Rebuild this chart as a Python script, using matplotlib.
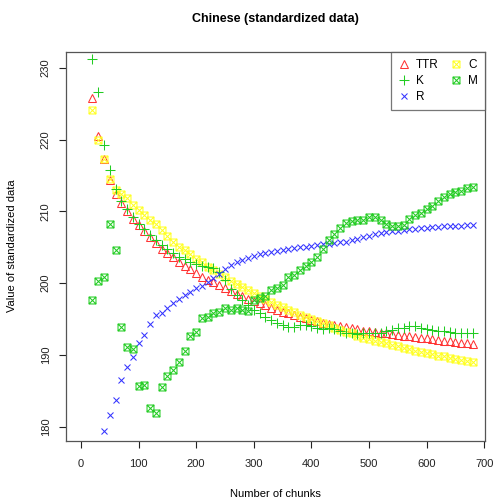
import numpy as np
import matplotlib.pyplot as plt
from matplotlib.path import Path

plt.rcParams['font.family'] = ['Liberation Sans', 'DejaVu Sans']

# chunk counts (every 10 chunks)
chunks = np.arange(20, 690, 10)

ttr = [225.8, 220.5, 217.3, 214.4, 212.4, 211.2, 210.1, 209.0, 208.1, 207.2,
       206.4, 205.6, 204.8, 204.2, 203.6, 203.0, 202.4, 201.9, 201.4, 200.9,
       200.5, 200.1, 199.7, 199.3, 198.9, 198.5, 198.2, 197.8, 197.5, 197.2,
       196.9, 196.6, 196.3, 196.0, 195.8, 195.5, 195.3, 195.1, 194.9, 194.7,
       194.5, 194.3, 194.2, 194.0, 193.9, 193.7, 193.6, 193.4, 193.3, 193.2,
       193.1, 193.0, 192.9, 192.8, 192.7, 192.6, 192.5, 192.4, 192.3, 192.2,
       192.1, 192.0, 191.9, 191.8, 191.7, 191.6, 191.5]

c_vals = [224.1, 220.0, 217.3, 214.5, 213.0, 212.4, 211.8, 210.9, 210.2, 209.5,
          208.8, 208.2, 207.4, 206.6, 205.8, 205.1, 204.6, 204.0, 203.4, 202.9,
          202.3, 201.8, 201.3, 200.8, 200.3, 199.9, 199.4, 199.0, 198.6, 198.2,
          197.8, 197.4, 197.0, 196.7, 196.3, 196.0, 195.6, 195.3, 195.0, 194.7,
          194.4, 194.1, 193.8, 193.5, 193.2, 193.0, 192.7, 192.4, 192.2, 192.0,
          191.8, 191.6, 191.4, 191.2, 191.0, 190.8, 190.6, 190.4, 190.3, 190.1,
          189.9, 189.8, 189.6, 189.5, 189.3, 189.2, 189.0]

k_vals = [231.2, 226.6, 219.2, 215.7, 213.1, 211.5, 210.3, 209.2, 208.3, 207.5,
          206.7, 206.0, 205.3, 204.7, 204.2, 203.7, 203.3, 202.9, 202.6, 202.4,
          202.3, 202.1, 201.5, 200.5, 199.2, 198.3, 197.6, 197.0, 196.3, 195.8,
          195.3, 194.9, 194.5, 194.1, 193.9, 193.9, 194.1, 194.2, 194.0, 193.7,
          193.6, 193.7, 193.6, 193.3, 193.0, 193.0, 192.9, 193.0, 193.0, 193.0,
          193.1, 193.3, 193.5, 193.7, 193.8, 194.0, 194.0, 193.8, 193.6, 193.5,
          193.4, 193.3, 193.2, 193.1, 193.1, 193.0, 193.0]

# R only shows from 40 chunks on
r_chunks = chunks[2:]
r_vals = [179.4, 181.6, 183.7, 186.5, 188.3, 189.7, 191.6, 192.8, 194.3, 195.5,
          195.9, 196.6, 197.2, 197.8, 198.3, 198.8, 199.3, 199.6, 200.1, 200.7,
          201.3, 201.9, 202.5, 202.9, 203.2, 203.5, 203.8, 204.0, 204.2, 204.4,
          204.5, 204.6, 204.8, 204.9, 205.0, 205.1, 205.2, 205.3, 205.4, 205.5,
          205.6, 205.7, 205.8, 206.0, 206.2, 206.4, 206.6, 206.8, 207.0, 207.1,
          207.2, 207.3, 207.4, 207.5, 207.6, 207.7, 207.7, 207.8, 207.8, 207.9,
          207.9, 208.0, 208.0, 208.1, 208.1]

m_vals = [197.6, 200.3, 200.8, 208.2, 204.6, 193.9, 191.1, 190.8, 185.7, 185.8,
          182.6, 181.9, 185.6, 187.0, 187.9, 189.0, 190.6, 192.6, 193.2, 195.1,
          195.3, 195.8, 196.0, 196.6, 196.2, 196.6, 196.3, 196.1, 197.6, 197.9,
          198.2, 199.0, 199.3, 199.8, 200.9, 201.2, 201.8, 202.4, 203.0, 203.6,
          204.8, 206.0, 206.9, 207.7, 208.4, 208.6, 208.8, 208.8, 209.2, 209.2,
          208.8, 208.2, 208.0, 208.0, 208.1, 209.0, 209.5, 209.8, 210.3, 210.8,
          211.4, 212.0, 212.4, 212.7, 212.9, 213.2, 213.4]

# square with a cross inside (R pch 7)
sq_x = Path([(-1, -1), (1, -1), (1, 1), (-1, 1), (-1, -1),
             (-1, -1), (1, 1), (-1, 1), (1, -1)],
            [Path.MOVETO, Path.LINETO, Path.LINETO, Path.LINETO, Path.CLOSEPOLY,
             Path.MOVETO, Path.LINETO, Path.MOVETO, Path.LINETO])

fig = plt.figure(figsize=(4.96, 5.01), dpi=100)
ax = fig.add_axes([66 / 496, 1 - 440.7 / 501, (485 - 66) / 496, (440.7 - 52) / 501])

kw = dict(linestyle='none', markerfacecolor='none', markeredgewidth=0.75)
h_ttr, = ax.plot(chunks, ttr, marker='^', color='#ff3333', markersize=6, **kw)
h_c, = ax.plot(chunks, c_vals, marker=sq_x, color='#ffff22', markersize=5, **kw)
h_k, = ax.plot(chunks, k_vals, marker='+', color='#22cc22', markersize=7, **kw)
h_r, = ax.plot(r_chunks, r_vals, marker='x', color='#3333ff', markersize=5, **kw)
h_m, = ax.plot(chunks, m_vals, marker=sq_x, color='#22cc22', markersize=5, **kw)

ax.set_xlim(-26, 701.4)
ax.set_ylim(178.05, 232.2)
ax.set_xticks(range(0, 701, 100))
ax.set_yticks(range(180, 231, 10))
ax.tick_params(direction='out', length=5, width=0.8, labelsize=8, colors='#222222')
ax.tick_params(axis='x', pad=8)
ax.tick_params(axis='y', pad=6)
for lbl in ax.get_yticklabels():
    lbl.set_rotation(90)
    lbl.set_va('center')
for sp in ax.spines.values():
    sp.set_color('#555555')
    sp.set_linewidth(0.9)

leg = ax.legend([h_ttr, h_k, h_r, h_c, h_m], ['TTR', 'K', 'R', 'C', 'M'],
                ncol=2, loc='upper right', borderaxespad=0, fontsize=8.5,
                frameon=True, fancybox=False, handlelength=1.0,
                handletextpad=0.5, columnspacing=1.0, labelspacing=0.35,
                borderpad=0.6)
leg.get_frame().set_edgecolor('#555555')
leg.get_frame().set_linewidth(0.9)

fig.text(275.5 / 496, 1 - 19 / 501, 'Chinese (standardized data)',
         ha='center', va='center', fontsize=9, fontweight='bold')
fig.text(275.5 / 496, 1 - 494 / 501, 'Number of chunks',
         ha='center', va='center', fontsize=8)
fig.text(12 / 496, 1 - 246 / 501, 'Value of standardized data',
         ha='center', va='center', fontsize=8, rotation=90)

fig.savefig('out.png', dpi=100)
